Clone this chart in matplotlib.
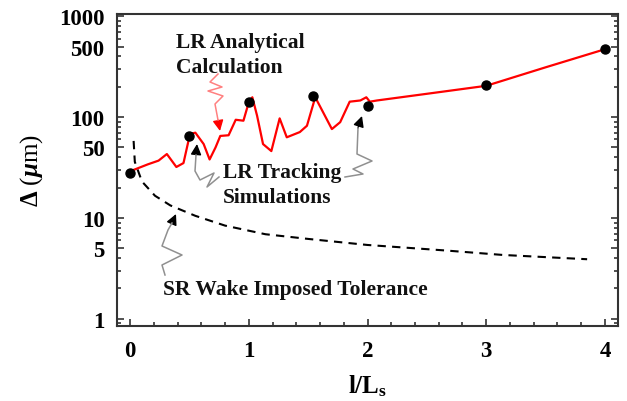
import numpy as np
import matplotlib
matplotlib.use("Agg")
import matplotlib.pyplot as plt
from matplotlib.ticker import FixedLocator, LogLocator, NullFormatter, MultipleLocator

# ------------------------------------------------------------
# data
# ------------------------------------------------------------
lr_x = [0.0, 0.15, 0.24, 0.31, 0.39, 0.45, 0.505, 0.55, 0.62, 0.67, 0.72, 0.76,
        0.83, 0.89, 0.955, 1.0, 1.03, 1.07, 1.12, 1.19, 1.26, 1.32, 1.43, 1.49,
        1.56, 1.70, 1.77, 1.85, 1.94, 1.99, 2.02, 2.08, 2.5, 3.0, 3.5, 4.0]
lr_y = [29, 34, 37, 43, 32, 35, 68, 70, 54, 38, 50, 65,
        66, 94, 92, 140, 157, 103, 54, 46, 97, 63, 71, 82,
        157, 76, 89, 142, 146, 157, 142, 146, 170, 204, 311, 470]

track_x = [0.0, 0.5, 1.0, 1.54, 2.0, 3.0, 4.0]
track_y = [28, 65, 141, 163, 129, 209, 471]

sr_x = [0.03, 0.04, 0.1, 0.21, 0.34, 0.55, 0.8, 1.14, 1.5, 2.0, 2.67, 3.14, 3.85]
sr_y = [58, 36, 23, 16.6, 13.3, 10.5, 8.4, 6.9, 6.2, 5.4, 4.75, 4.3, 3.9]

y_ticks = [1, 5, 10, 50, 100, 500, 1000]
x_ticks = [0, 1, 2, 3, 4]

# ------------------------------------------------------------
# style
# ------------------------------------------------------------
plt.rcParams.update({
    "font.family": "Liberation Serif",
    "font.weight": "bold",
    "mathtext.fontset": "custom",
    "mathtext.rm": "Liberation Serif:bold",
    "mathtext.it": "Liberation Serif:italic:bold",
    "mathtext.bf": "Liberation Serif:bold",
})

W, H = 627, 402
fig = plt.figure(figsize=(W / 100, H / 100), dpi=100)
ax = fig.add_axes([117 / W, 1 - 327 / H, (618 - 117) / W, (327 - 15) / H])


def px(x, y):
    return x / W, 1 - y / H


def squiggle(points, tip, stem_color, head_color):
    xs, ys = zip(*[px(*p) for p in points])
    fig.add_artist(plt.Line2D(xs, ys, transform=fig.transFigure,
                              color=stem_color, lw=1.1))
    ax.annotate("", xy=px(*tip), xycoords="figure fraction",
                xytext=px(*points[-1]), textcoords="figure fraction",
                arrowprops=dict(arrowstyle="-|>", color=head_color, lw=1.0,
                                mutation_scale=16, shrinkA=0, shrinkB=0))


# curves
ax.plot(lr_x, lr_y, color="#ff0000", lw=1.6, zorder=3)
ax.plot(sr_x, sr_y, color="black", lw=1.5, dashes=(4, 3), zorder=3)
ax.plot(track_x, track_y, "o", color="black", ms=6.5, zorder=4)

ax.set_yscale("log")
ax.set_xlim(-0.11, 4.11)
ax.set_ylim(0.85, 1050)

ax.yaxis.set_major_locator(FixedLocator(y_ticks))
ax.set_yticklabels([str(t) for t in y_ticks])
ax.yaxis.set_minor_locator(LogLocator(base=10, subs=np.arange(2, 10)))
ax.yaxis.set_minor_formatter(NullFormatter())
ax.set_xticks(x_ticks)
ax.xaxis.set_minor_locator(MultipleLocator(0.2))

ax.tick_params(which="both", direction="in", right=True, top=False,
               width=1.2, color="#333333", labelsize=16.5)
ax.tick_params(which="major", length=5)
ax.tick_params(which="minor", length=3)
ax.tick_params(axis="y", pad=9)
ax.tick_params(axis="x", pad=10)
for s in ax.spines.values():
    s.set_linewidth(1.5)
    s.set_color("#333333")

ax.set_xlabel("$\\mathrm{l/L_s}$", fontsize=18, labelpad=8)
ax.set_ylabel("$\\Delta$ ($\\mu$m)", fontsize=18, labelpad=10)

# annotations
txt = dict(fontsize=15.5, fontweight="bold", ha="left", va="center", color="#111111")
fig.text(*px(176, 43), "LR Analytical", **txt)
fig.text(*px(176, 68), "Calculation", **txt)
fig.text(*px(223, 173), "LR Tracking", **txt)
fig.text(*px(223, 198), "Simulations", **txt)
fig.text(*px(163, 290), "SR Wake Imposed Tolerance", **txt)

squiggle([(218, 75), (210, 83), (222, 88), (208, 92), (223, 97), (215, 105),
          (218, 121)], (220, 132), "#ff8080", "#ff0000")
squiggle([(219, 178), (207, 188), (214, 174), (200, 181), (195, 172),
          (196, 156)], (197, 145), "#909090", "black")
squiggle([(345, 178), (363, 175), (353, 170), (372, 162), (357, 155),
          (358, 129)], (362, 117), "#909090", "black")
squiggle([(165, 276), (162, 266), (182, 256), (162, 247), (168, 231),
          (172, 224)], (176, 215), "#909090", "black")

fig.savefig("out.png", dpi=100)
